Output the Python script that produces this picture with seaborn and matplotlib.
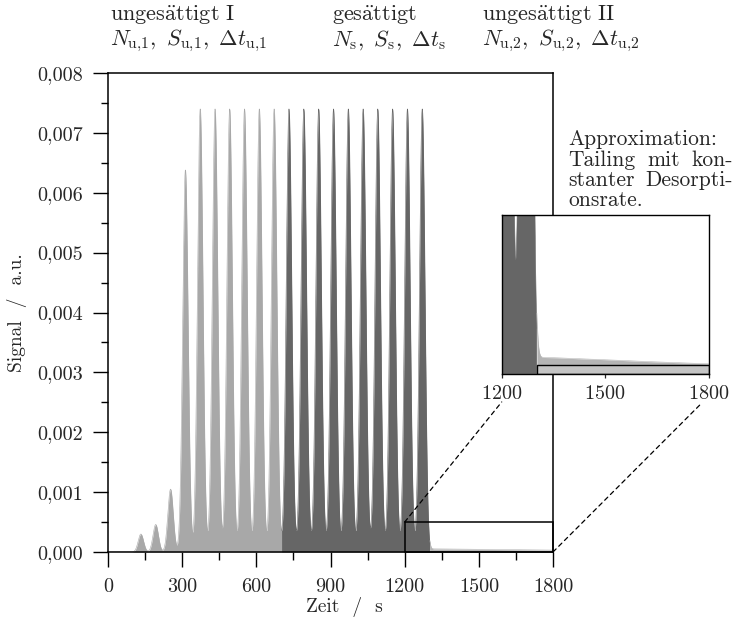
import numpy as np
import pandas as pd
import matplotlib
matplotlib.use("Agg")
import matplotlib.pyplot as plt
import seaborn as sns
from matplotlib.patches import Rectangle, ConnectionPatch
from matplotlib.ticker import MultipleLocator, FuncFormatter

# ---------------- data ----------------
peak_times = [133, 193, 253, 313, 373, 433, 492, 552, 612, 672,
              732, 792, 852, 912, 972, 1032, 1091, 1151, 1211, 1271]
peak_heights = [0.00030, 0.00046, 0.00105, 0.00638, 0.0074, 0.0074, 0.0074,
                0.0074, 0.0074, 0.0074, 0.0074, 0.0074, 0.0074, 0.0074,
                0.0074, 0.0074, 0.0074, 0.0074, 0.0074, 0.0074]
phase_bounds = [0, 702, 1302, 1800]
phase_names = ["ungesättigt I", "gesättigt", "ungesättigt II"]
tail_times = [1302, 1320, 1360, 1400, 1500, 1600, 1700, 1800]
tail_values = [0.000052, 0.000052, 0.000051, 0.000049, 0.000045,
               0.000040, 0.000036, 0.000032]
approx_rate = 0.000028          # constant desorption rate (bar in inset)
zoom_box = (1200, 1800, 0.0, 0.0005)

# ---------------- style ----------------
PEAK_SIGMA = 11.0
phase_colors = ["#a8a8a8", "#666666", "#b4b4b4"]
bar_color = "#c4c4c4"
FS_TICK = 14.5
FS_LABEL = 14
FS_TOP = 16
FS_NOTE = 15.5

sns.set_theme(style="white")
plt.rcParams.update({
    "font.family": "serif",
    "font.serif": ["cmr10"],
    "mathtext.fontset": "cm",
    "axes.formatter.use_mathtext": True,
    "axes.unicode_minus": False,
})

# ---------------- build signal ----------------
t = np.linspace(0, 1800, 18001)
sig = np.zeros_like(t)
for t0, h in zip(peak_times, peak_heights):
    sig += h * np.exp(-0.5 * ((t - t0) / PEAK_SIGMA) ** 2)
sig += np.where(t >= tail_times[0],
                np.interp(t, tail_times, tail_values, left=0.0), 0.0)

phase = np.empty(t.shape, dtype=object)
for i, name in enumerate(phase_names):
    m = (t >= phase_bounds[i]) & (t <= phase_bounds[i + 1])
    phase[m] = name
df = pd.DataFrame({"t": t, "signal": sig, "phase": phase})
palette = dict(zip(phase_names, phase_colors))


def draw_signal(axis):
    for i, name in enumerate(phase_names):
        m = (t >= phase_bounds[i]) & (t <= phase_bounds[i + 1])
        axis.fill_between(t[m], 0, sig[m], color=phase_colors[i], lw=0, zorder=1)
    sns.lineplot(data=df, x="t", y="signal", hue="phase", palette=palette,
                 estimator=None, lw=0.4, legend=False, ax=axis, zorder=1.5)


# ---------------- figure ----------------
W, H = 737, 621
fig = plt.figure(figsize=(W / 100, H / 100), dpi=100)
ax = fig.add_axes([108 / W, 69 / H, 445 / W, 479 / H])
draw_signal(ax)

ax.set_xlim(0, 1800)
ax.set_ylim(0, 0.008)
ax.xaxis.set_major_locator(MultipleLocator(300))
ax.xaxis.set_minor_locator(MultipleLocator(150))
ax.yaxis.set_major_locator(MultipleLocator(0.001))
ax.yaxis.set_minor_locator(MultipleLocator(0.0005))
ax.yaxis.set_major_formatter(FuncFormatter(lambda v, _: f"{v:.3f}".replace(".", ",")))
ax.xaxis.set_major_formatter(FuncFormatter(lambda v, _: f"{v:.0f}"))
ax.tick_params(which="major", direction="out", length=10.8, width=1.0,
               labelsize=FS_TICK, color="black", bottom=True, left=True)
ax.tick_params(which="minor", direction="out", length=5.4, width=1.0,
               color="black", bottom=True, left=True)
ax.tick_params(axis="y", which="major", pad=7.5)
ax.tick_params(axis="x", which="major", pad=8.0)
for sp in ax.spines.values():
    sp.set_linewidth(1.1)
    sp.set_color("black")
    sp.set_zorder(3)

ax.set_xlabel("Zeit  /  s", fontsize=FS_LABEL)
ax.set_ylabel("Signal  /  a.u.", fontsize=FS_LABEL)
ax.xaxis.set_label_coords((344 - 108) / 445, (552 - 607) / 479)
ax.xaxis.label.set_va("center")
ax.yaxis.set_label_coords((17 - 108) / 445, 0.5)
ax.yaxis.label.set_va("center")

x0, x1, y0, y1 = zoom_box
ax.add_patch(Rectangle((x0, y0), x1 - x0, y1 - y0, fill=False,
                       edgecolor="black", lw=1.1, zorder=4, clip_on=False))

# ---------------- inset ----------------
axin = fig.add_axes([501.7 / W, (H - 374) / H, 207 / W, 159 / H])
axin.set_facecolor("white")
draw_signal(axin)
axin.fill_between([tail_times[0], x1], 0, approx_rate, facecolor=bar_color,
                  edgecolor="black", lw=1.0, zorder=2)
axin.set_xlim(x0, x1)
axin.set_ylim(y0, y1)
axin.set_xticks([1200, 1500, 1800])
axin.set_yticks([])
axin.set_xlabel("")
axin.set_ylabel("")
axin.tick_params(axis="x", direction="out", length=3, width=0.9,
                 labelsize=FS_TICK, pad=5, bottom=True)
for sp in axin.spines.values():
    sp.set_linewidth(1.0)
    sp.set_color("black")

# dashed connector lines
for xy_main, xy_in in [((x0, y1), (0.0, -0.176)), ((x1, y0), (0.957, -0.195))]:
    con = ConnectionPatch(xyA=xy_main, coordsA=ax.transData,
                          xyB=xy_in, coordsB=axin.transAxes,
                          linestyle=(0, (3.5, 3)), lw=0.9, color="black", zorder=5)
    fig.add_artist(con)

# ---------------- annotations ----------------
def fx(px):
    return px / W


def fy(py):
    return 1 - py / H


top_labels = [
    (110, r"$\mathrm{unges\ddot{a}ttigt\ I}$",
     r"$N_{\mathrm{u}{,}1},\ S_{\mathrm{u}{,}1},\ \Delta t_{\mathrm{u}{,}1}$"),
    (332, r"$\mathrm{ges\ddot{a}ttigt}$",
     r"$N_{\mathrm{s}},\ S_{\mathrm{s}},\ \Delta t_{\mathrm{s}}$"),
    (482, r"$\mathrm{unges\ddot{a}ttigt\ II}$",
     r"$N_{\mathrm{u}{,}2},\ S_{\mathrm{u}{,}2},\ \Delta t_{\mathrm{u}{,}2}$"),
]
for px, l1, l2 in top_labels:
    fig.text(fx(px), fy(20.5), l1, fontsize=FS_TOP, ha="left", va="baseline")
    fig.text(fx(px), fy(45.5), l2, fontsize=FS_TOP, ha="left", va="baseline")

# justified note text (block from L to R, full justification)
note_lines = [
    (145, ["Approximation:"]),
    (165.5, ["Tailing", "mit", "kon-"]),
    (186, ["stanter", "Desorpti-"]),
    (206.5, ["onsrate."]),
]
L, R = 568, 733
renderer = fig.canvas.get_renderer()
for py, words in note_lines:
    objs = [fig.text(fx(L), fy(py), w, fontsize=FS_NOTE, ha="left", va="baseline")
            for w in words]
    if len(objs) > 1:
        widths = [o.get_window_extent(renderer).width for o in objs]
        gap = (R - L - sum(widths)) / (len(objs) - 1)
        xpos = L
        for o, wd in zip(objs, widths):
            o.set_x(fx(xpos))
            xpos += wd + gap

fig.savefig("out.png", dpi=100)
